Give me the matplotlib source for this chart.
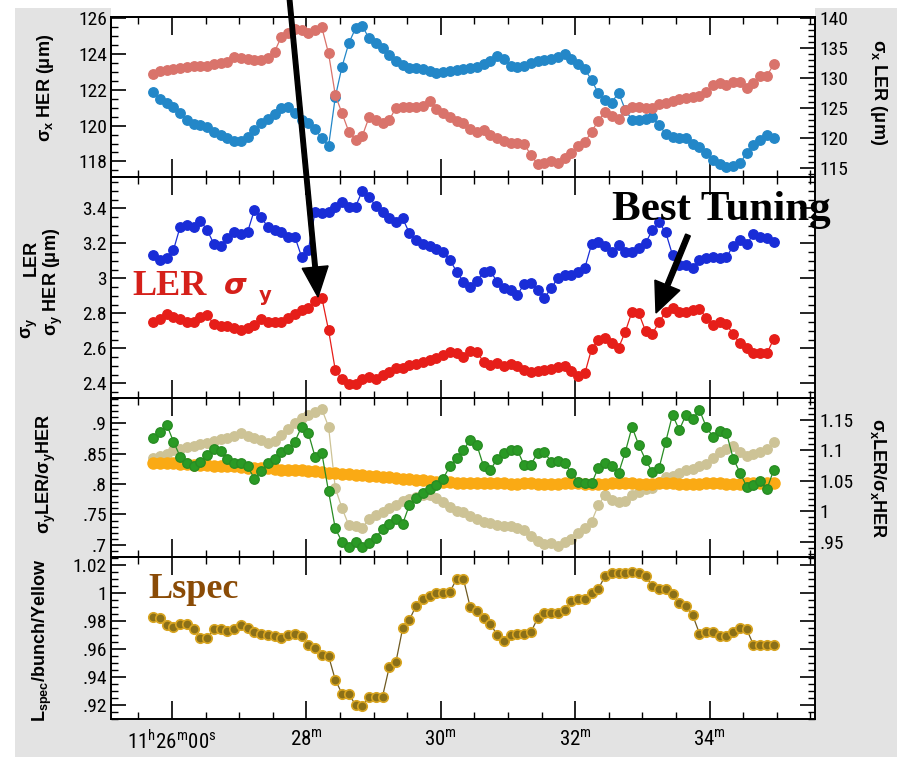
import numpy as np
import matplotlib
matplotlib.use('Agg')
import matplotlib.pyplot as plt
from matplotlib import font_manager
from matplotlib.patches import Rectangle, FancyArrow
from matplotlib.ticker import MultipleLocator, FuncFormatter
from matplotlib.transforms import IdentityTransform

# sampling window, minutes after 11h00m
t_start, t_end = 25.72, 34.955

# horizontal beam size (um)
sigx_her = [121.90, 121.47, 121.29, 121.06, 120.69, 120.32, 120.08, 120.02, 119.91, 119.65,
            119.50, 119.31, 119.15, 119.15, 119.39, 119.76, 120.13, 120.39, 120.65, 120.97,
            121.03, 120.69, 120.32, 120.13, 119.80, 119.30, 118.85, 121.60, 123.30, 124.60,
            125.44, 125.57, 124.88, 124.60, 124.32, 123.95, 123.63, 123.39, 123.21, 123.21,
            123.15, 123.06, 122.93, 123.00, 123.07, 123.11, 123.15, 123.21, 123.30, 123.45,
            123.61, 123.89, 123.71, 123.34, 123.26, 123.35, 123.48, 123.61, 123.67, 123.75,
            123.86, 124.01, 123.71, 123.45, 123.15, 122.55, 121.81, 121.44, 121.29, 121.85,
            120.88, 120.32, 120.32, 120.36, 120.47, 120.04, 119.54, 119.35, 119.33, 119.33,
            118.98, 118.79, 118.49, 118.08, 117.86, 117.71, 117.75, 117.90, 118.46, 118.92,
            119.20, 119.48, 119.33]
sigx_ler = [130.72, 131.27, 131.44, 131.61, 131.72, 131.83, 132.05, 132.05, 132.11, 132.33,
            132.49, 132.77, 133.49, 133.44, 133.16, 133.05, 133.05, 133.33, 134.44, 136.94,
            137.49, 138.16, 138.05, 137.61, 138.05, 138.49, 134.16, 127.22, 124.16, 121.11,
            119.72, 120.38, 123.49, 123.05, 122.61, 123.05, 125.11, 125.27, 125.27, 125.27,
            125.38, 126.27, 124.83, 124.16, 123.49, 122.94, 122.49, 121.55, 121.11, 121.38,
            120.55, 119.99, 119.55, 119.16, 119.16, 119.05, 117.22, 115.72, 115.83, 116.27,
            115.83, 116.66, 117.61, 118.72, 119.33, 121.11, 122.94, 124.44, 123.72, 123.16,
            124.72, 125.27, 125.16, 124.99, 125.11, 125.66, 125.83, 126.22, 126.61, 126.77,
            126.88, 127.05, 127.77, 128.88, 129.16, 128.94, 129.44, 129.44, 128.33, 129.27,
            130.38, 130.38, 132.38]

# vertical beam size (um)
sigy_her = [3.133, 3.104, 3.114, 3.161, 3.295, 3.304, 3.295, 3.329, 3.276, 3.196,
            3.186, 3.228, 3.266, 3.253, 3.266, 3.390, 3.352, 3.291, 3.276, 3.266,
            3.238, 3.238, 3.123, 3.161, 3.380, 3.375, 3.377, 3.409, 3.434, 3.409,
            3.409, 3.500, 3.466, 3.413, 3.380, 3.342, 3.323, 3.342, 3.257, 3.219,
            3.198, 3.182, 3.167, 3.148, 3.104, 3.038, 2.980, 2.952, 2.984, 3.038,
            3.041, 2.980, 2.946, 2.933, 2.904, 2.969, 2.971, 2.933, 2.889, 2.942,
            3.003, 3.019, 3.019, 3.038, 3.060, 3.194, 3.209, 3.186, 3.148, 3.190,
            3.152, 3.152, 3.171, 3.200, 3.276, 3.320, 3.262, 3.133, 3.076, 3.076,
            3.060, 3.106, 3.114, 3.121, 3.114, 3.121, 3.186, 3.217, 3.194, 3.253,
            3.238, 3.228, 3.209]
sigy_ler = [2.752, 2.767, 2.794, 2.780, 2.767, 2.748, 2.748, 2.780, 2.790, 2.737,
            2.729, 2.725, 2.718, 2.704, 2.714, 2.733, 2.767, 2.752, 2.748, 2.752,
            2.775, 2.794, 2.817, 2.828, 2.870, 2.890, 2.704, 2.476, 2.424, 2.394,
            2.394, 2.424, 2.436, 2.424, 2.447, 2.466, 2.485, 2.489, 2.504, 2.508,
            2.523, 2.531, 2.546, 2.561, 2.580, 2.571, 2.552, 2.584, 2.577, 2.523,
            2.504, 2.514, 2.497, 2.512, 2.500, 2.478, 2.466, 2.470, 2.476, 2.481,
            2.493, 2.500, 2.470, 2.441, 2.457, 2.596, 2.647, 2.657, 2.628, 2.603,
            2.695, 2.809, 2.800, 2.699, 2.680, 2.752, 2.805, 2.828, 2.805, 2.805,
            2.819, 2.824, 2.775, 2.733, 2.748, 2.737, 2.680, 2.628, 2.600, 2.571,
            2.571, 2.571, 2.653]

# LER/HER ratios
ratio_y = [.875, .885, .898, .870, .845, .834, .830, .837, .848, .858,
           .854, .842, .834, .834, .829, .809, .822, .834, .842, .853,
           .857, .870, .894, .884, .845, .851, .788, .727, .705, .697,
           .705, .697, .703, .712, .726, .735, .743, .735, .766, .777,
           .786, .792, .799, .809, .830, .843, .856, .873, .864, .829,
           .823, .842, .851, .856, .856, .831, .832, .851, .852, .837,
           .838, .834, .819, .804, .801, .801, .827, .834, .829, .818,
           .853, .894, .864, .840, .820, .826, .870, .914, .889, .914,
           .907, .922, .894, .878, .887, .884, .842, .819, .796, .799,
           .805, .792, .823]
ratio_x = [1.087, 1.091, 1.094, 1.100, 1.102, 1.105, 1.108, 1.111, 1.113, 1.115,
           1.118, 1.120, 1.124, 1.128, 1.123, 1.120, 1.117, 1.113, 1.115, 1.125,
           1.135, 1.145, 1.154, 1.158, 1.163, 1.168, 1.139, 1.038, 1.005, .977,
           .976, .972, .988, .994, .999, 1.005, 1.011, 1.016, 1.020, 1.023,
           1.026, 1.027, 1.022, 1.015, 1.007, 1.001, .998, .992, .987, .983,
           .980, .977, .975, .975, .973, .969, .960, .951, .946, .947,
           .943, .949, .955, .964, .973, .983, 1.010, 1.027, 1.018, 1.015,
           1.017, 1.027, 1.032, 1.037, 1.038, 1.048, 1.056, 1.058, 1.063, 1.067,
           1.070, 1.074, 1.078, 1.087, 1.097, 1.102, 1.108, 1.097, 1.090, 1.094,
           1.097, 1.102, 1.114]
current_ratio = [.835, .835, .834, .834, .833, .833, .832, .831, .831, .830,
                 .830, .829, .829, .828, .827, .827, .826, .826, .825, .824,
                 .824, .823, .823, .822, .821, .820, .819, .818, .817, .816,
                 .815, .815, .814, .813, .812, .811, .810, .809, .808, .807,
                 .806, .805, .804, .803, .803, .802, .802, .802, .801, .801,
                 .801, .801, .801, .800, .800, .801, .801, .800, .800, .800,
                 .800, .801, .801, .801, .800, .800, .800, .800, .801, .801,
                 .801, .801, .800, .800, .800, .801, .801, .801, .800, .800,
                 .800, .800, .801, .801, .801, .800, .800, .800, .801, .801,
                 .801, .801, .801]

# specific luminosity per bunch
lspec = [.983, .982, .977, .976, .978, .978, .974, .968, .968, .974,
         .974, .973, .974, .977, .975, .972, .971, .970, .969, .968,
         .970, .971, .969, .963, .961, .956, .955, .938, .928, .928,
         .920, .919, .926, .926, .926, .947, .951, .975, .981, .991,
         .996, .998, 1.000, 1.000, 1.001, 1.010, 1.010, .990, .987, .982,
         .978, .970, .966, .970, .971, .971, .972, .982, .986, .986,
         .986, .988, .994, .996, .996, 1.000, 1.003, 1.012, 1.014, 1.014,
         1.014, 1.015, 1.014, 1.012, 1.005, 1.003, 1.003, .999, .993, .991,
         .984, .971, .972, .972, .969, .969, .972, .975, .974, .963,
         .963, .963, .963]

t = np.linspace(t_start, t_end, len(sigx_her))

W, H = 899, 757
names = {f.name for f in font_manager.fontManager.ttflist}
narrow = next((n for n in ['Liberation Sans Narrow', 'DejaVu Sans Condensed', 'Roboto Condensed']
               if n in names), 'Liberation Sans')
plt.rcParams['font.family'] = [narrow, 'DejaVu Sans']
plt.rcParams['mathtext.fontset'] = 'custom'
plt.rcParams['mathtext.rm'] = narrow
plt.rcParams['mathtext.bf'] = 'Liberation Sans:bold'
plt.rcParams['axes.linewidth'] = 1.4

fig = plt.figure(figsize=(W / 100, H / 100), dpi=100)


def fx(px):
    return px / W


def fy(py):
    return 1 - py / H


# grey frame around the panels
fig.add_artist(Rectangle((fx(15), 0), fx(897) - fx(15), fy(8), transform=fig.transFigure,
                         facecolor='#e3e3e3', edgecolor='none', zorder=-5))
fig.add_artist(Rectangle((fx(111), fy(17)), fx(815) - fx(111), fy(8) - fy(17),
                         transform=fig.transFigure, facecolor='white', edgecolor='none', zorder=-4))

left, right = 111, 815
panels = [(17, 177), (177, 398), (398, 557), (557, 719)]
axes = []
for top, bot in panels:
    a = fig.add_axes([fx(left), fy(bot), fx(right) - fx(left), (bot - top) / H],
                     sharex=axes[0] if axes else None)
    axes.append(a)
ax1, ax2, ax3, ax4 = axes
ax1r = ax1.twinx()
ax3r = ax3.twinx()


def strip0(v, pos):
    s = f'{v:.2f}'.rstrip('0').rstrip('.')
    return s[1:] if s.startswith('0.') else s


def tlabel(v, pos):
    m = int(round(v))
    if m == 26:
        return r'11$^{\rm h}$26$^{\rm m}$00$^{\rm s}$'
    return f'{m}' + r'$^{\rm m}$'


for a in axes + [ax1r, ax3r]:
    a.tick_params(axis='x', which='major', direction='in', length=13, width=1.2, top=True, bottom=True)
    a.tick_params(axis='x', which='minor', direction='in', length=5, width=1.0, top=True, bottom=True)
    a.tick_params(axis='y', which='major', direction='in', length=11, width=1.2, labelsize=14, pad=3)
    a.tick_params(axis='y', which='minor', direction='in', length=5, width=1.0)
    a.yaxis.set_major_formatter(FuncFormatter(strip0))

ax1.set_xlim(25.092, 35.57)
ax1.xaxis.set_major_locator(MultipleLocator(2))
ax1.xaxis.set_minor_locator(MultipleLocator(0.5))
ax4.xaxis.set_major_formatter(FuncFormatter(tlabel))
for a in (ax1, ax2, ax3):
    a.tick_params(axis='x', which='both', labelbottom=False)
ax4.tick_params(axis='x', labelsize=15, pad=7)
for a in (ax2, ax4):
    a.tick_params(axis='y', which='both', right=True)

ms = 6.8

# panel 1: horizontal sizes
ax1.plot(t, sigx_her, '-o', color='#2387c8', ms=ms, lw=0.9)
ax1r.plot(t, sigx_ler, '-o', color='#d9736b', ms=ms, lw=0.9)
ax1.set_ylim(117.13, 126.07)
ax1.yaxis.set_major_locator(MultipleLocator(2))
ax1.yaxis.set_minor_locator(MultipleLocator(0.5))
ax1r.set_ylim(113.55, 140.22)
ax1r.yaxis.set_major_locator(MultipleLocator(5))
ax1r.yaxis.set_minor_locator(MultipleLocator(1))

# panel 2: vertical sizes
ax2.plot(t, sigy_her, '-o', color='#192dd7', ms=ms, lw=0.9)
ax2.plot(t, sigy_ler, '-o', color='#e61e19', ms=ms, lw=0.9)
ax2.set_ylim(2.316, 3.579)
ax2.yaxis.set_major_locator(MultipleLocator(0.2))
ax2.yaxis.set_minor_locator(MultipleLocator(0.05))

# panel 3: ratios, tan series behind the others
ax3r.plot(t, ratio_x, '-o', color='#cdc396', ms=ms, lw=0.9)
ax3.plot(t, current_ratio, '-o', color='#faaa14', ms=8, lw=0.9)
ax3.plot(t, ratio_y, '-o', color='#288c23', mfc='#2a9a25', ms=ms, lw=0.9)
ax3.set_zorder(ax3r.get_zorder() + 1)
ax3.patch.set_visible(False)
ax3r.patch.set_visible(True)
ax3r.patch.set_facecolor('white')
ax3.set_ylim(0.6801, 0.9416)
ax3.yaxis.set_major_locator(MultipleLocator(0.05))
ax3.yaxis.set_minor_locator(MultipleLocator(0.01))
ax3r.set_ylim(0.9247, 1.1862)
ax3r.yaxis.set_major_locator(MultipleLocator(0.05))
ax3r.yaxis.set_minor_locator(MultipleLocator(0.01))

# panel 4: specific luminosity
ax4.plot(t, lspec, '-o', color='#6f5a22', mfc='#8b7018', mec='#d9a520', mew=1.2, ms=ms, lw=0.9)
ax4.set_ylim(0.910, 1.0257)
ax4.yaxis.set_major_locator(MultipleLocator(0.02))
ax4.yaxis.set_minor_locator(MultipleLocator(0.005))

# axis titles
lab = dict(family='Liberation Sans', weight='bold', size=13, ha='center', va='center')
fig.text(fx(45), fy(88), r'σ$_{\mathbf{x}}$ HER (μm)', rotation=90, **lab)
fig.text(fx(878), fy(92), r'σ$_{\mathbf{x}}$ LER (μm)', rotation=270, **lab)
fig.text(fx(31), fy(258), 'LER', rotation=90, **lab)
fig.text(fx(30), fy(328), r'σ$_{\mathbf{y}}$', rotation=90, **lab)
fig.text(fx(53), fy(282), r'σ$_{\mathbf{y}}$ HER (μm)', rotation=90, **lab)
fig.text(fx(46), fy(474), r'σ$_{\mathbf{y}}$LER/σ$_{\mathbf{y}}$HER', rotation=90, **lab)
fig.text(fx(878), fy(478), r'σ$_{\mathbf{x}}$LER/σ$_{\mathbf{x}}$HER', rotation=270, **lab)
fig.text(fx(42), fy(640), r'L$_{\mathbf{spec}}$/bunch/Yellow', rotation=90, **lab)

# annotations
fig.add_artist(FancyArrow(289.3, 760, 318 - 289.3, 460 - 760, width=4.5, head_width=26,
                          head_length=30, length_includes_head=True, color='black',
                          transform=IdentityTransform(), zorder=6))
fig.add_artist(FancyArrow(688, 522, 656 - 688, 444 - 522, width=5, head_width=27,
                          head_length=30, length_includes_head=True, color='black',
                          transform=IdentityTransform(), zorder=6))
fig.text(fx(612), fy(220), 'Best Tuning', family='Liberation Serif', weight='bold', size=31,
         va='baseline', ha='left', zorder=7)
red = '#d5201a'
fig.text(fx(132), fy(295), 'LER', family='Liberation Serif', weight='bold', size=26,
         color=red, va='baseline', zorder=7)
fig.text(fx(224), fy(294), 'σ', family='DejaVu Sans', style='italic', weight='bold', size=21,
         color=red, va='baseline', zorder=7)
fig.text(fx(259), fy(301), 'y', family='DejaVu Sans', weight='bold', size=14,
         color=red, va='baseline', zorder=7)
fig.text(fx(148), fy(598), 'Lspec', family='Liberation Serif', weight='bold', size=26,
         color='#8a4b06', va='baseline', zorder=7)

fig.savefig('out.png', dpi=100)
